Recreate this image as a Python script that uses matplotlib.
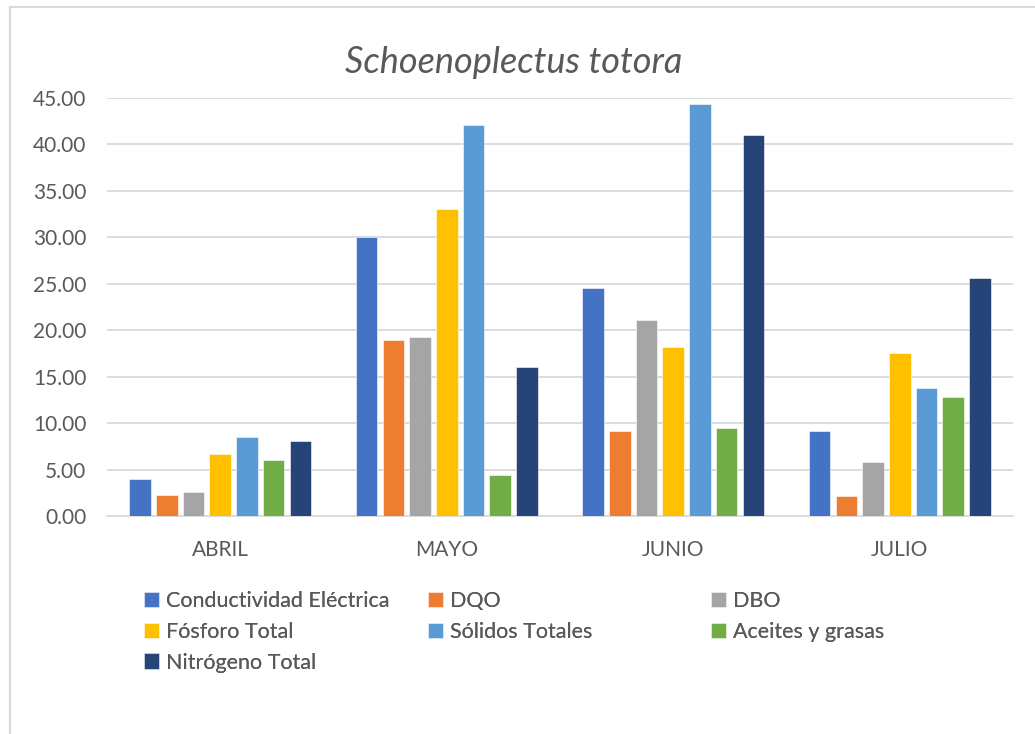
import matplotlib
matplotlib.use('Agg')
import matplotlib.pyplot as plt
from matplotlib.lines import Line2D
import numpy as np

plt.rcParams['font.family'] = ['Lato', 'DejaVu Sans']

# Datos por mes
meses = ['ABRIL', 'MAYO', 'JUNIO', 'JULIO']
parametros = ['Conductividad Eléctrica', 'DQO', 'DBO', 'Fósforo Total',
              'Sólidos Totales', 'Aceites y grasas', 'Nitrógeno Total']

conductividad = [3.95, 30.03, 24.57, 9.20]
dqo = [2.30, 18.93, 9.16, 2.19]
dbo = [2.62, 19.22, 21.05, 5.85]
fosforo = [6.64, 33.01, 18.14, 17.60]
solidos = [8.47, 42.13, 44.40, 13.76]
aceites = [5.99, 4.45, 9.48, 12.79]
nitrogeno = [8.11, 16.09, 41.06, 25.57]

series = [conductividad, dqo, dbo, fosforo, solidos, aceites, nitrogeno]
colores = ['#4472C4', '#ED7D31', '#A5A5A5', '#FFC000',
           '#5B9BD5', '#70AD47', '#264478']

texto = '#595959'
grilla = '#D9D9D9'

fig = plt.figure(figsize=(10.35, 7.34), dpi=100)
ax = fig.add_axes([107 / 1035, 1 - 516 / 734, 906 / 1035, 418 / 734])

x = np.arange(len(meses))
paso = 0.118
ancho = 0.095
barras = []
for i, (valores, color) in enumerate(zip(series, colores)):
    b = ax.bar(x + (i - 3) * paso, valores, width=ancho, color=color,
               edgecolor='white', linewidth=0.4, zorder=3)
    barras.append(b)

ax.set_xlim(-0.5, len(meses) - 0.5)
ax.set_ylim(0, 45)
ax.set_yticks(np.arange(0, 46, 5))
ax.set_yticklabels([f'{v:.2f}' for v in np.arange(0, 46, 5)])
ax.set_xticks(x)
ax.set_xticklabels(meses)

ax.grid(axis='y', color=grilla, linewidth=1.3, zorder=0)
for lado in ['top', 'right', 'left']:
    ax.spines[lado].set_visible(False)
ax.spines['bottom'].set_color(grilla)
ax.spines['bottom'].set_linewidth(1.3)
ax.tick_params(axis='both', length=0, labelsize=15, labelcolor=texto)
ax.tick_params(axis='y', pad=15)
ax.tick_params(axis='x', pad=17)

fig.suptitle('Schoenoplectus totora', x=0.496, y=0.938, fontsize=26,
             style='italic', color=texto)

# Leyenda en tres columnas de ancho fijo
columnas = [[0, 3, 6], [1, 4], [2, 5]]
xs_col = [144 / 1035, 428 / 1035, 711 / 1035]
for cols, xc in zip(columnas, xs_col):
    leg = fig.legend([barras[i] for i in cols], [parametros[i] for i in cols],
                     loc='upper left', bbox_to_anchor=(xc, 1 - 591 / 734),
                     frameon=False, fontsize=15.5, labelcolor=texto,
                     handlelength=0.7, handleheight=0.7, handletextpad=0.3,
                     labelspacing=0.5, borderpad=0, borderaxespad=0)
    fig.add_artist(leg)

# Borde del gráfico
fig.add_artist(Line2D([9.5 / 1035, 1], [1 - 6.5 / 734] * 2, color=grilla,
                      linewidth=1.5, transform=fig.transFigure))
fig.add_artist(Line2D([9.5 / 1035] * 2, [0, 1 - 6.5 / 734], color=grilla,
                      linewidth=1.5, transform=fig.transFigure))

fig.savefig('out.png', dpi=100)
